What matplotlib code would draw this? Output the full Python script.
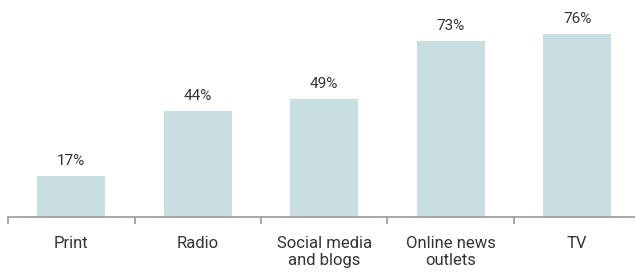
import matplotlib.pyplot as plt
import numpy as np

# data
categories = ['Print', 'Radio', 'Social media\nand blogs', 'Online news\noutlets', 'TV']
values = [17, 44, 49, 73, 76]

barColor = '#c8dee0'
axisColor = '#9a9a9a'
textColor = '#333333'

plt.rcParams['font.family'] = ['Roboto', 'DejaVu Sans']

fig = plt.figure(figsize=(6.35, 2.74), dpi=100)
# axis runs off the right edge of the picture, like the original
ax = fig.add_axes([8 / 635, 57 / 274, 632.5 / 635, 217 / 274])

x = np.arange(len(categories))
ax.bar(x, values, width=0.54, color=barColor)

for xi, v in zip(x, values):
    ax.text(xi, v + 3.3, '%d%%' % v, ha='center', va='bottom', fontsize=11, color=textColor)

ax.set_xlim(-0.5, len(categories) - 0.5)
ax.set_ylim(0, 90)

for s in ['top', 'right', 'left']:
    ax.spines[s].set_visible(False)
ax.spines['bottom'].set_color(axisColor)
ax.spines['bottom'].set_linewidth(1.2)
ax.set_yticks([])

# category boundaries get the ticks, labels sit in between
ax.set_xticks(np.arange(-0.5, len(categories), 1.0))
ax.set_xticklabels([])
ax.tick_params(axis='x', which='major', length=5, width=1.2, color=axisColor)
ax.set_xticks(x, minor=True)
ax.set_xticklabels(categories, minor=True, fontsize=12, color=textColor, linespacing=1.15)
ax.tick_params(axis='x', which='minor', length=0, pad=14)

fig.savefig('out.png', dpi=100)
